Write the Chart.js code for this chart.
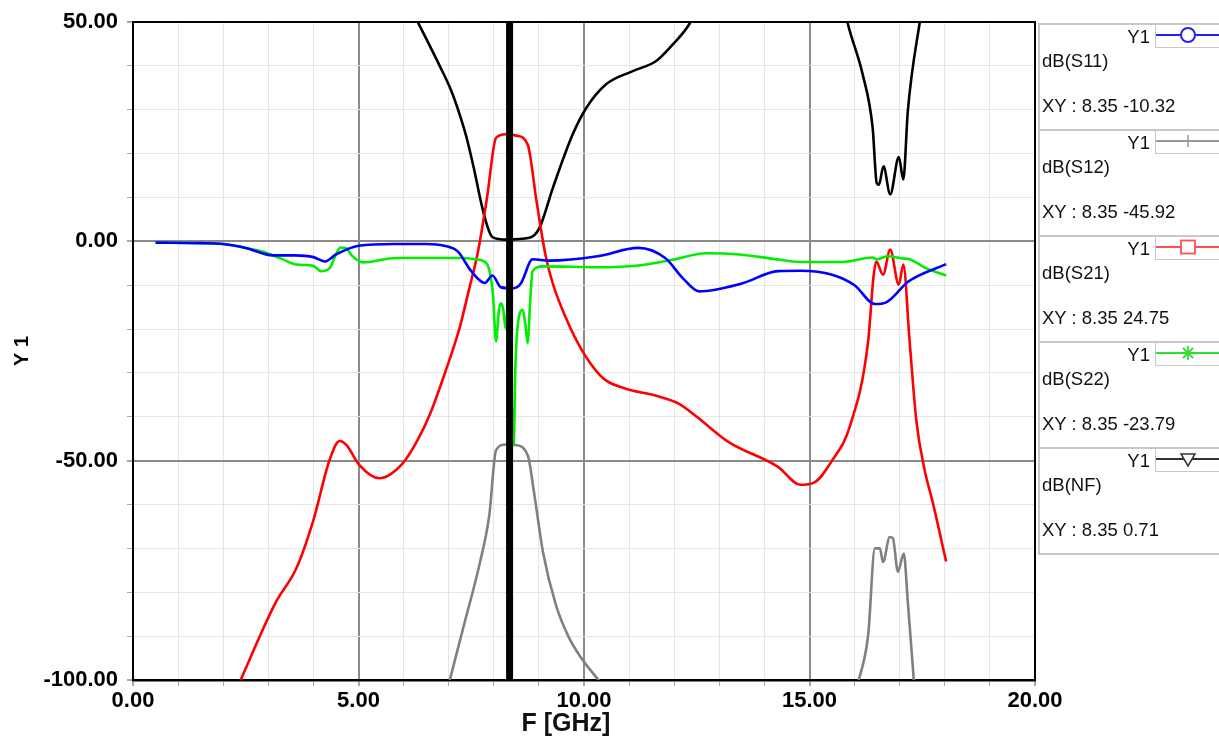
<!DOCTYPE html>
<html>
<head>
<meta charset="utf-8">
<title>dB(S) / NF vs F</title>
<script src="https://cdn.jsdelivr.net/npm/chart.js@4.4.1/dist/chart.umd.min.js"></script>
<style>
  html, body { margin: 0; padding: 0; background: #fff; }
  #wrap { position: relative; width: 1219px; height: 740px; overflow: hidden; font-family: "Liberation Sans", Arial, sans-serif; color: #111; }
  #plotBox { position: absolute; left: 0; top: 0; width: 1219px; height: 740px; }
  #xTitle { position: absolute; left: 466px; width: 200px; top: 707px; line-height: 30px; text-align: center; font-weight: bold; font-size: 25px; }
  #legendPanel { position: absolute; left: 1038px; top: 23px; width: 181px; border-left: 2px solid #c8c8c8; }
  .entry { position: relative; height: 104px; border-top: 2px solid #c8c8c8; }
  .entry:last-child { border-bottom: 2px solid #c8c8c8; }
  .entry div { position: absolute; font-size: 18.5px; line-height: 21px; white-space: nowrap; }
  .axisTag { right: 71px; top: 1px; }
  .trace { left: 2px; top: 25px; }
  .readout { left: 2px; top: 70px; }
  .sample { left: 115px; top: -2px; width: 66px; height: 24px; border-left: 1px solid #c8c8c8; border-bottom: 1px solid #c8c8c8; }
</style>
</head>
<body>
<div id="wrap">
  <div id="plotBox"><canvas id="sparChart"></canvas></div>
  <div id="xTitle">F [GHz]</div>
  <div id="legendPanel"></div>
</div>
<script>
// marker readout
const markerFreq = 8.35;
const markerRange = [50, -100];

const xMajorTicks = [0, 5, 10, 15, 20];
const yMajorTicks = [50, 0, -50, -100];

// dB(S11)
const s11Freq = [0.5, 1.5, 2.0, 2.5, 3.1, 3.6, 4.0, 4.25, 4.5, 5.0, 5.8, 6.5, 6.9, 7.2, 7.5, 7.8, 7.97, 8.16, 8.42, 8.6, 8.86, 9.23, 10.3, 11.2, 11.8, 12.2, 12.55, 13.5, 14.3, 14.8, 15.5, 16.0, 16.45, 16.7, 17.2, 18.03];
const s11Db = [-0.3, -0.4, -0.6, -1.5, -3.2, -3.2, -3.6, -4.6, -3.0, -1.0, -0.6, -0.6, -1.0, -2.3, -6.8, -9.5, -7.8, -10.5, -10.7, -9.6, -4.1, -4.4, -3.4, -1.5, -3.8, -8.5, -11.4, -9.6, -6.8, -6.7, -7.6, -10.0, -14.3, -13.9, -9.1, -5.2];

// dB(S12)
const s12Freq = [7.0, 7.35, 7.68, 7.9, 8.05, 8.27, 8.46, 8.75, 8.9, 9.09, 9.38, 9.65, 9.9, 10.4, 13.0, 16.07, 16.3, 16.45, 16.56, 16.63, 16.78, 16.85, 16.96, 17.09, 17.18, 17.32];
const s12Db = [-101, -87, -73.8, -62.4, -47.6, -46.3, -46.4, -48.7, -57.8, -70.8, -83, -90, -94.4, -101, null, -101, -89.8, -70, -70, -73.1, -67.4, -67.7, -75.3, -71.2, -82.2, -101];

// dB(S21)
const s21Freq = [2.3, 3.17, 3.62, 3.99, 4.36, 4.58, 4.73, 5.02, 5.46, 5.98, 6.3, 6.6, 6.95, 7.24, 7.45, 7.65, 7.85, 8.05, 8.27, 8.5, 8.75, 8.95, 9.16, 9.6, 10.34, 10.9, 11.6, 12.1, 12.5, 13.2, 14.3, 14.8, 15.1, 15.5, 15.9, 16.3, 16.42, 16.48, 16.63, 16.79, 16.98, 17.08, 17.22, 17.37, 17.55, 17.73, 18.03];
const s21Db = [-102, -82.2, -74.6, -63.9, -49.8, -45.5, -46.4, -51, -54, -50.6, -45.5, -39, -29, -19.8, -11, -2.3, 10, 23.6, 24.4, 24.1, 22.1, 9, -3.8, -17.5, -30.4, -33.5, -35.2, -37, -40, -45.7, -51.4, -55.5, -55, -50, -42, -22.8, -8, -4.6, -7.6, -1.9, -9.9, -5.3, -22.8, -41, -52, -59.4, -73];

// dB(S22)
const s22Freq = [0.5, 2.0, 2.5, 2.87, 3.3, 3.62, 4.0, 4.17, 4.36, 4.5, 4.6, 4.72, 4.85, 5.09, 5.83, 7.31, 7.6, 7.83, 7.92, 7.98, 8.05, 8.11, 8.16, 8.21, 8.26, 8.32, 8.44, 8.48, 8.56, 8.64, 8.70, 8.75, 8.81, 8.86, 9.09, 10.34, 11.2, 11.96, 12.7, 13.45, 14.2, 14.78, 15.73, 16.4, 16.5, 16.73, 17.06, 17.22, 17.58, 18.03];
const s22Db = [-0.3, -0.6, -1.5, -2.3, -4.0, -5.3, -5.6, -6.8, -6.1, -3.0, -1.4, -1.5, -3.2, -4.8, -3.8, -3.8, -4.1, -4.9, -7.5, -12.0, -22.8, -16.0, -14.1, -15.5, -19.8, -14.0, -46.5, -28.0, -17.0, -15.6, -19.0, -23.2, -13.0, -6.8, -5.7, -5.9, -5.5, -4.2, -2.7, -3.0, -4.0, -4.7, -4.7, -3.7, -4.1, -3.4, -3.9, -4.1, -6.1, -7.8];

// dB(NF)
const nfFreq = [6.25, 6.8, 7.05, 7.24, 7.4, 7.55, 7.76, 7.9, 7.98, 8.27, 8.79, 9.01, 9.31, 9.75, 10.05, 10.49, 11.08, 11.6, 11.97, 12.34, 12.45, 14.0, 15.8, 15.85, 16.18, 16.4, 16.49, 16.54, 16.64, 16.79, 16.98, 17.08, 17.18, 17.44, 17.5];
const nfDb = [51.3, 40, 34.5, 29, 23.5, 17, 7, 2.2, 0.9, 0.4, 0.8, 3, 12.2, 24.4, 30.4, 35.8, 38.8, 41.1, 44.9, 49.6, 52, null, 52, 49.6, 38, 25.9, 13.3, 12.9, 17.1, 10.7, 19.2, 14.1, 29.7, 49.6, 53];

const traceNames = ["dB(S11)", "dB(S12)", "dB(S21)", "dB(S22)", "dB(NF)"];
const traceColors = ["#0000ff", "#808080", "#ff0000", "#00ee00", "#000000"];
const traceSymbols = ["circle", "plus", "square", "star", "triangle"];
const markerValues = [-10.32, -45.92, 24.75, -23.79, 0.71];

const fontFamily = "'Liberation Sans', Arial, sans-serif";

function toPoints(freqs, values) {
  return freqs.map((f, i) => ({ x: f, y: values[i] }));
}

function traceDataset(index, freqs, values) {
  return {
    label: traceNames[index],
    data: toPoints(freqs, values),
    borderColor: traceColors[index],
    borderWidth: 2.6,
    pointRadius: 0,
    cubicInterpolationMode: "monotone",
    spanGaps: false,
  };
}

const markerLine = {
  label: "marker",
  data: markerRange.map((v) => ({ x: markerFreq, y: v })),
  borderColor: "#000",
  borderWidth: 7,
  borderCapStyle: "round",
  pointRadius: 0,
};

// plot frame on top/right, like the bottom/left axis lines
const plotFrame = {
  id: "plotFrame",
  beforeDatasetsDraw(chart) {
    const { ctx, chartArea } = chart;
    ctx.save();
    ctx.strokeStyle = "#000";
    ctx.lineWidth = 2;
    ctx.strokeRect(chartArea.left, chartArea.top, chartArea.right - chartArea.left, chartArea.bottom - chartArea.top);
    ctx.restore();
  },
};

function gridColor(majors) {
  return (ctx) => (ctx.tick && majors.includes(ctx.tick.value) ? "#8a8a8a" : "#e6e6e6");
}

function gridWidth(majors) {
  return (ctx) => (ctx.tick && majors.includes(ctx.tick.value) ? 2 : 1);
}

const tickFont = { family: fontFamily, size: 22, weight: "bold" };

new Chart(document.getElementById("sparChart"), {
  type: "line",
  data: {
    datasets: [
      markerLine,
      traceDataset(0, s11Freq, s11Db),
      traceDataset(3, s22Freq, s22Db),
      traceDataset(2, s21Freq, s21Db),
      traceDataset(1, s12Freq, s12Db),
      traceDataset(4, nfFreq, nfDb),
    ],
  },
  options: {
    responsive: true,
    maintainAspectRatio: false,
    animation: false,
    layout: { padding: { top: 22, right: 184, bottom: 0, left: 0 } },
    plugins: { legend: { display: false }, tooltip: { enabled: false } },
    scales: {
      x: {
        type: "linear",
        min: 0,
        max: 20,
        afterFit: (scale) => {
          scale.height = 60;
          scale.paddingLeft = 0;
          scale.paddingRight = 0;
        },
        ticks: {
          stepSize: 1,
          autoSkip: false,
          minRotation: 0,
          maxRotation: 0,
          padding: 2,
          color: "#000",
          font: tickFont,
          callback: (v) => (xMajorTicks.includes(v) ? v.toFixed(2) : ""),
        },
        grid: { color: gridColor(xMajorTicks), lineWidth: gridWidth(xMajorTicks), tickLength: 6, tickColor: "#a8a8a8" },
        border: { color: "#000", width: 2.5 },
      },
      y: {
        type: "linear",
        min: -100,
        max: 50,
        afterFit: (scale) => {
          scale.width = 133;
          scale.paddingTop = 0;
          scale.paddingBottom = 0;
        },
        ticks: {
          stepSize: 10,
          padding: 9,
          color: "#000",
          font: tickFont,
          callback: (v) => (yMajorTicks.includes(v) ? v.toFixed(2) : ""),
        },
        grid: { color: gridColor(yMajorTicks), lineWidth: gridWidth(yMajorTicks), tickLength: 6, tickColor: "#a8a8a8" },
        border: { color: "#000", width: 2 },
        title: {
          display: true,
          text: "Y 1",
          color: "#000",
          font: { family: fontFamily, size: 20, weight: "bold" },
          padding: { top: 10, bottom: 0 },
        },
      },
    },
  },
  plugins: [plotFrame],
});

function symbolSvg(kind, color) {
  const cx = 32, cy = 12;
  let mark = "";
  if (kind === "circle") {
    mark = `<circle cx="${cx}" cy="${cy}" r="7" fill="#fff" stroke="${color}" stroke-width="2"/>`;
  } else if (kind === "plus") {
    mark = `<line x1="${cx}" y1="${cy - 6}" x2="${cx}" y2="${cy + 6}" stroke="${color}" stroke-width="1.5"/>`;
  } else if (kind === "square") {
    mark = `<rect x="${cx - 7}" y="${cy - 6.5}" width="14" height="13" fill="#fff" stroke="${color}" stroke-width="1.8"/>`;
  } else if (kind === "star") {
    mark = `<line x1="${cx - 5}" y1="${cy - 5}" x2="${cx + 5}" y2="${cy + 5}" stroke="${color}" stroke-width="1.8"/>` +
      `<line x1="${cx - 5}" y1="${cy + 5}" x2="${cx + 5}" y2="${cy - 5}" stroke="${color}" stroke-width="1.8"/>` +
      `<line x1="${cx}" y1="${cy - 7}" x2="${cx}" y2="${cy + 7}" stroke="${color}" stroke-width="1.8"/>`;
  } else if (kind === "triangle") {
    mark = `<polygon points="${cx - 7},${cy - 5} ${cx + 7},${cy - 5} ${cx},${cy + 7}" fill="#fff" stroke="${color}" stroke-width="1.5"/>`;
  }
  return `<svg width="66" height="24"><line x1="0" y1="${cy}" x2="66" y2="${cy}" stroke="${color}" stroke-width="2"/>${mark}</svg>`;
}

function renderLegend() {
  const panel = document.getElementById("legendPanel");
  const legendColors = ["#2020ff", "#999999", "#ff5050", "#30e030", "#333333"];
  traceNames.forEach((name, i) => {
    const entry = document.createElement("div");
    entry.className = "entry";
    entry.innerHTML =
      `<div class="axisTag">Y1</div>` +
      `<div class="sample">${symbolSvg(traceSymbols[i], legendColors[i])}</div>` +
      `<div class="trace">${name}</div>` +
      `<div class="readout">XY : ${markerFreq.toFixed(2)} ${markerValues[i].toFixed(2)}</div>`;
    panel.appendChild(entry);
  });
}

renderLegend();
</script>
</body>
</html>
